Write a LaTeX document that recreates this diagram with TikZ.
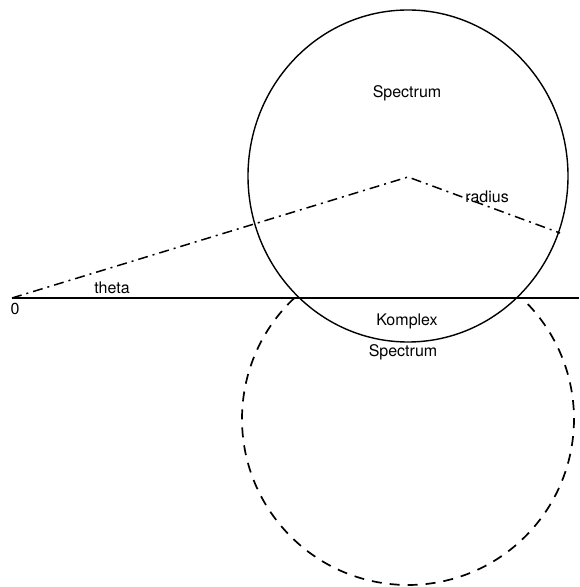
\documentclass[tikz,border=0pt]{standalone}
\usepackage{fontspec}
\setmainfont{TeX Gyre Heros}
\begin{document}
\begin{tikzpicture}[x=1pt,y=1pt,line width=1.4pt,
  lbl/.style={font=\fontsize{16}{18}\selectfont,inner sep=1pt},
  dashdot/.style={line width=1.5pt,dash pattern=on 10pt off 5pt on 2pt off 5pt}]
\useasboundingbox (0,0) rectangle (579,587);
\coordinate (O) at (12,289); \coordinate (C) at (408,410); \coordinate (Cc) at (408,168);
\coordinate (R) at (560,354);
\draw (O)--(579,289);
\draw (C) ++(0,1) ellipse[x radius=160,y radius=166];
\draw[line width=1.7pt,dash pattern=on 10pt off 8pt] (Cc) ++(133.2:166) arc[start angle=133.2,end angle=406.8,radius=166];
\draw[dashdot] (O)--(C)--(R);
\node[lbl] (spec) at (407,494){Spectrum}; \node[lbl] (rad) at (487,390){radius};
\node[lbl] (th) at (112,299){theta}; \node[lbl] (zero) at (15,278){0};
\node[lbl] (kom) at (407,266){Komplex}; \node[lbl] (spec2) at (403,235){Spectrum};
\end{tikzpicture}
\end{document}
